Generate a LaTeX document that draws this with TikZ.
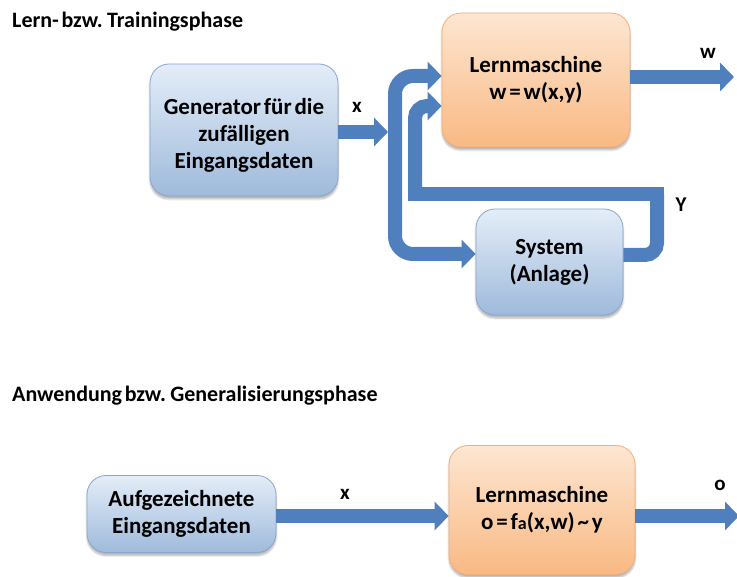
\documentclass[tikz,border=0pt]{standalone}
\usepackage{fontspec}
\setmainfont{Carlito}[WordSpace=0.55]
\usetikzlibrary{arrows.meta,shadows.blur}
\definecolor{blueTop}{HTML}{E4EDF8}
\definecolor{blueBot}{HTML}{9FBADB}
\definecolor{blueEdge}{HTML}{8AA6CB}
\definecolor{orTop}{HTML}{FDE6D2}
\definecolor{orBot}{HTML}{F9B983}
\definecolor{orEdge}{HTML}{F3AE78}
\definecolor{flowc}{HTML}{4F7FBC}
\tikzset{
  boxbase/.style={rounded corners=19pt, line width=0.8pt, inner sep=0pt, align=center,
    font=\fontsize{23}{27}\selectfont\bfseries,
    blur shadow={shadow blur steps=6, shadow xshift=0pt, shadow yshift=-3pt, shadow opacity=30}},
  bluebox/.style={boxbase, draw=blueEdge, top color=blueTop, bottom color=blueBot},
  orbox/.style={boxbase, draw=orEdge, top color=orTop, bottom color=orBot},
  flow/.style={draw=flowc, line width=14pt},
  tipflow/.style={flow, -{Triangle[length=14pt,width=28pt]}},
  titletext/.style={anchor=west, inner sep=0pt, font=\fontsize{22}{26}\selectfont\bfseries},
  lbl/.style={inner sep=0pt, font=\fontsize{21}{24}\selectfont\bfseries}
}
\begin{document}
\begin{tikzpicture}[x=1pt,y=-1pt]
\useasboundingbox (0,0) rectangle (737,577);
% titles
\node[titletext] (t1) at (12,22) {Lern- bzw. Trainingsphase};
\node[titletext] (t2) at (12,396) {Anwendung bzw. Generalisierungsphase};
% boxes
\node[bluebox, minimum width=188pt, minimum height=132pt] (gen) at (244,130)
  {\rule{0pt}{27pt}Generator für die\\zufälligen\\Eingangsdaten};
\node[orbox, minimum width=188pt, minimum height=134pt] (lm1) at (536,80)
  {Lernmaschine\\w = w(x,y)};
\node[bluebox, minimum width=147pt, minimum height=106pt] (sys) at (549.5,262)
  {System\\(Anlage)};
\node[bluebox, minimum width=189pt, minimum height=77pt] (auf) at (181.5,514)
  {Aufgezeichnete\\Eingangsdaten};
\node[orbox, minimum width=186pt, minimum height=129pt] (lm2) at (542,510)
  {Lernmaschine\\o = f{\fontsize{18}{20}\selectfont a}(x,w) \textasciitilde{} y};
% coordinates for the bars
\coordinate (jx) at (388,132);
\coordinate (barmid) at (395,165);
\coordinate (bartop) at (395,76);
\coordinate (barbot) at (395,254);
\coordinate (fbr) at (657,255);
\coordinate (fbtr) at (657,194);
\coordinate (fbtl) at (415,194);
\coordinate (fbup) at (415,106);
\coordinate (wend) at (734,77);
\coordinate (oend) at (739,516);
% top section connectors
\draw[tipflow] (gen.east |- jx) -- (jx);
\draw[tipflow, rounded corners=18pt] (barmid) -- (bartop) -- (lm1.west |- bartop);
\draw[tipflow, rounded corners=18pt] (barmid) -- (barbot) -- (sys.west |- barbot);
\draw[flow, rounded corners=12pt] (sys.east |- fbr) -- (fbr) -- (fbtr);
\draw[flow, line cap=rect] (fbtr) -- (fbtl);
\draw[tipflow, rounded corners=12pt] (fbtl) -- (fbup) -- (lm1.west |- fbup);
\draw[tipflow] (lm1.east |- wend) -- (wend);
% bottom section connectors
\draw[tipflow] (auf.east |- oend) -- (lm2.west |- oend);
\draw[tipflow] (lm2.east |- oend) -- (oend);
% labels
\node[lbl] (lx1) at (357,107) {x};
\node[lbl] (lw) at (708,53) {w};
\node[lbl] (ly) at (681,205) {Y};
\node[lbl] (lx2) at (345,494) {x};
\node[lbl] (lo) at (720,485) {o};
\end{tikzpicture}
\end{document}
